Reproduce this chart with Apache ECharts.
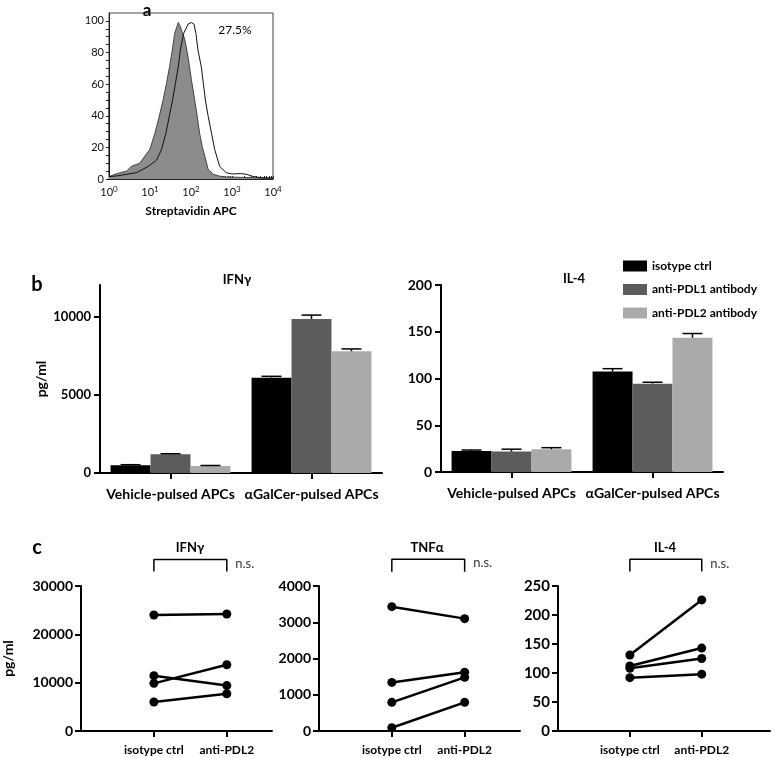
<!DOCTYPE html>
<html><head><meta charset="utf-8">
<script src="https://cdn.jsdelivr.net/npm/echarts@6/dist/echarts.min.js"></script>
<style>html,body{margin:0;padding:0;background:#fff}#c{width:777px;height:758px}</style>
</head><body><div id="c"></div>
<script>
// ---------- Panel a: histogram ----------
const grayX = [1, 1.05, 1.6, 2.7, 3.5, 5.6, 8.3, 10, 13.2, 16.6, 20.9, 25, 30, 34.7, 40, 44.7, 49, 53.7, 59, 71, 85, 102, 123, 141, 162, 190, 219, 263, 347, 500, 724, 1860, 3980, 10000];
const grayY = [1.5, 2.7, 3.5, 5, 8, 10, 16, 19, 29, 39, 50, 60, 71, 81, 92, 96, 99, 97, 94, 88, 77, 63, 50, 40, 29, 20, 14, 6, 3, 1.8, 1.3, 1, 0.8, 0.4];
const whiteX = [1, 1.02, 1.6, 4.7, 9.1, 14.5, 19, 24.5, 29.5, 35.5, 41.7, 49, 55, 66, 85, 102, 118, 132, 148, 178, 200, 224, 263, 316, 380, 500, 724, 1000, 1600, 2240, 3160, 5000, 10000];
const whiteY = [54, 1.5, 2, 4, 8, 12, 18.5, 29, 39.5, 50, 60.5, 71, 81.5, 92, 98, 99, 98, 92, 81.5, 71, 60.5, 50, 39.5, 29, 18.5, 8, 4, 3.2, 3.4, 3.0, 1.7, 0.8, 0.6];
const histYTicks = [0, 20, 40, 60, 80, 100];
const histXTicks = [1, 10, 100, 1000, 10000];
const histXExp = ['0', '1', '2', '3', '4'];
const histMinor = [2,3,4,5,6,7,8,9,20,30,40,50,60,70,80,90,200,300,400,500,600,700,800,900,2000,3000,4000,5000,6000,7000,8000,9000];

// ---------- Panel b: bar charts ----------
const bCats = ['Vehicle-pulsed APCs', 'αGalCer-pulsed APCs'];
const groups = ['isotype ctrl', 'anti-PDL1 antibody', 'anti-PDL2 antibody'];
const groupColors = ['#000000', '#5c5c5c', '#aaaaaa'];
const ifngIso = [490, 6080];
const ifngPdl1 = [1190, 9830];
const ifngPdl2 = [450, 7770];
const ifngIsoErr = [40, 90];
const ifngPdl1Err = [40, 250];
const ifngPdl2Err = [30, 150];
const il4Iso = [22.5, 107.5];
const il4Pdl1 = [21.8, 94.5];
const il4Pdl2 = [24.3, 143.6];
const il4IsoErr = [1, 3];
const il4Pdl1Err = [2.6, 1.5];
const il4Pdl2Err = [1.7, 4.5];
const bIfngTicks = [0, 5000, 10000];

// ---------- Panel c: paired lines ----------
const cCats = ['isotype ctrl', 'anti-PDL2'];
const cIfngIso = [24000, 11440, 9860, 6000];
const cIfngAnti = [24200, 9400, 13700, 7700];
const cTnfIso = [3430, 1340, 790, 90];
const cTnfAnti = [3100, 1620, 1480, 790];
const cIl4Iso = [131, 112, 108, 92];
const cIl4Anti = [226, 143, 125, 98];
const cIfngBracket = [33000, 35500];
const cTnfBracket = [4390, 4740];
const cIl4Bracket = [275, 296];

const FONT = 'Lato';

function errData(mean, err){ return mean.map((v,i)=>[i, v, err[i]]); }
function errRender(k){
  return function(params, api){
    const c = api.value(0), v = api.value(1), e = api.value(2);
    const base = api.coord([c, v]);
    const top = api.coord([c, v + e]);
    const band = api.size([1, 0])[0];
    const bw = band * 0.85 / 3;
    const x = base[0] + (k - 1) * bw;
    const half = bw / 4;
    return {type:'group', children:[
      {type:'line', shape:{x1:x, y1:base[1], x2:x, y2:top[1]}, style:{stroke:'#000', lineWidth:1.5}},
      {type:'line', shape:{x1:x-half, y1:top[1], x2:x+half, y2:top[1]}, style:{stroke:'#000', lineWidth:1.5}}
    ]};
  };
}

const chart = echarts.init(document.getElementById('c'), null, {renderer:'canvas'});

const grids = [
  {left:109, top:13, width:164, height:166, show:true, borderColor:'#444', borderWidth:1},
  {left:100, top:285, width:282, height:188},
  {left:441, top:285, width:282, height:187},
  {left:81, top:586, width:191, height:145},
  {left:319, top:586, width:201, height:145},
  {left:558, top:586, width:212, height:145}
].map(g => Object.assign({containLabel:false, outerBoundsMode:'none'}, g));

const boldLabel = (size) => ({color:'#000', fontFamily:FONT, fontWeight:'bold', fontSize:size});
const thickLine = {show:true, lineStyle:{color:'#000', width:2}};
const plain = v => String(v);

const xAxes = [
  {gridIndex:0, type:'log', logBase:10, min:1, max:10000,
   axisLine:{show:true, lineStyle:{color:'#222', width:1}},
   axisTick:{show:true, inside:true, length:3, customValues: histMinor.concat(histXTicks), lineStyle:{color:'#222'}},
   minorTick:{show:false}, splitLine:{show:false},
   axisLabel:{customValues: histXTicks, margin:6, color:'#111', fontFamily:FONT, fontSize:11,
     formatter: v => '10{s|' + histXExp[histXTicks.indexOf(v)] + '}',
     rich:{s:{fontSize:8, fontFamily:FONT, color:'#111', padding:[0,0,7,0]}}},
   name:'Streptavidin APC', nameLocation:'middle', nameGap:26,
   nameTextStyle:{color:'#000', fontFamily:FONT, fontWeight:'bold', fontSize:12}},
  {gridIndex:1, type:'category', data:bCats, boundaryGap:true,
   axisLine:thickLine, axisTick:{show:true, alignWithLabel:true, length:6, lineStyle:{width:2, color:'#000'}},
   axisLabel:Object.assign({margin:14, interval:0}, boldLabel(14))},
  {gridIndex:2, type:'category', data:bCats, boundaryGap:true,
   axisLine:thickLine, axisTick:{show:true, alignWithLabel:true, length:6, lineStyle:{width:2, color:'#000'}},
   axisLabel:Object.assign({margin:14, interval:0}, boldLabel(14))},
];
[3,4,5].forEach((gi, j) => {
  const maxes = [2.62, 2.76, 2.95];
  xAxes.push({gridIndex:gi, type:'value', min:0, max:maxes[j],
    axisLine:thickLine, splitLine:{show:false},
    axisTick:{show:true, customValues:[1,2], length:6, lineStyle:{width:2, color:'#000'}},
    axisLabel:Object.assign({customValues:[1,2], margin:13, formatter: v => cCats[Math.round(v)-1]}, boldLabel(12))});
});

const yAxes = [
  {gridIndex:0, type:'value', min:0, max:105,
   axisLine:{show:true, lineStyle:{color:'#222', width:1}},
   axisTick:{show:true, length:3, customValues:[0,5,10,15,20,25,30,35,40,45,50,55,60,65,70,75,80,85,90,95,100], lineStyle:{color:'#222'}},
   splitLine:{show:false},
   axisLabel:{customValues:histYTicks, margin:5, color:'#111', fontFamily:FONT, fontSize:11}},
  {gridIndex:1, type:'value', min:0, max:12000,
   axisLine:thickLine, splitLine:{show:false},
   axisTick:{show:true, customValues:bIfngTicks, length:6, lineStyle:{width:2, color:'#000'}},
   axisLabel:Object.assign({customValues:bIfngTicks, margin:9, formatter:plain}, boldLabel(13)),
   name:'pg/ml', nameLocation:'middle', nameRotate:90, nameGap:52,
   nameTextStyle:{color:'#000', fontFamily:FONT, fontWeight:'bold', fontSize:14}},
  {gridIndex:2, type:'value', min:0, max:200, interval:50,
   axisLine:thickLine, splitLine:{show:false},
   axisTick:{show:true, length:6, lineStyle:{width:2, color:'#000'}},
   axisLabel:Object.assign({margin:9, formatter:plain}, boldLabel(14))},
  {gridIndex:3, type:'value', min:0, max:30000, interval:10000,
   axisLine:thickLine, splitLine:{show:false},
   axisTick:{show:true, length:6, lineStyle:{width:2, color:'#000'}},
   axisLabel:Object.assign({margin:8, formatter:plain}, boldLabel(14)),
   name:'pg/ml', nameLocation:'middle', nameRotate:90, nameGap:66,
   nameTextStyle:{color:'#000', fontFamily:FONT, fontWeight:'bold', fontSize:14}},
  {gridIndex:4, type:'value', min:0, max:4000, interval:1000,
   axisLine:thickLine, splitLine:{show:false},
   axisTick:{show:true, length:6, lineStyle:{width:2, color:'#000'}},
   axisLabel:Object.assign({margin:8, formatter:plain}, boldLabel(14))},
  {gridIndex:5, type:'value', min:0, max:250, interval:50,
   axisLine:thickLine, splitLine:{show:false},
   axisTick:{show:true, length:6, lineStyle:{width:2, color:'#000'}},
   axisLabel:Object.assign({margin:8, formatter:plain}, boldLabel(15))}
];

const series = [];
// histogram
series.push({type:'line', xAxisIndex:0, yAxisIndex:0, data: grayX.map((x,i)=>[x, grayY[i]]),
  symbol:'none', lineStyle:{color:'#444', width:1}, areaStyle:{color:'#8c8c8c', opacity:1}, z:2, silent:true});
series.push({type:'line', xAxisIndex:0, yAxisIndex:0, data: whiteX.map((x,i)=>[x, whiteY[i]]),
  symbol:'none', lineStyle:{color:'#111', width:1}, z:3, silent:true});

// bars
const ifngMeans = [ifngIso, ifngPdl1, ifngPdl2];
const ifngErrs = [ifngIsoErr, ifngPdl1Err, ifngPdl2Err];
const il4Means = [il4Iso, il4Pdl1, il4Pdl2];
const il4Errs = [il4IsoErr, il4Pdl1Err, il4Pdl2Err];
[[1, ifngMeans, ifngErrs], [2, il4Means, il4Errs]].forEach(([ax, means, errs]) => {
  groups.forEach((g, k) => {
    series.push({type:'bar', name:g, xAxisIndex:ax, yAxisIndex:ax, data:means[k],
      barGap:'0%', barCategoryGap:'15%', itemStyle:{color:groupColors[k]}, z:2});
  });
  groups.forEach((g, k) => {
    series.push({type:'custom', xAxisIndex:ax, yAxisIndex:ax, data:errData(means[k], errs[k]),
      renderItem: errRender(k), z:3, silent:true});
  });
});

// paired lines + significance bracket
[[3, cIfngIso, cIfngAnti, cIfngBracket], [4, cTnfIso, cTnfAnti, cTnfBracket], [5, cIl4Iso, cIl4Anti, cIl4Bracket]].forEach(([ax, a, b, br]) => {
  a.forEach((v, i) => {
    series.push({type:'line', xAxisIndex:ax, yAxisIndex:ax, data:[[1, v], [2, b[i]]],
      symbol:'circle', symbolSize:9, itemStyle:{color:'#000'}, lineStyle:{color:'#000', width:2.5}, z:3, silent:true});
  });
  series.push({type:'line', xAxisIndex:ax, yAxisIndex:ax, clip:false, symbol:'none', silent:true,
    lineStyle:{color:'#000', width:1.5},
    data:[[1, br[0]], [1, br[1]], [2, br[1]], [2, br[0]]]});
  series.push({type:'scatter', xAxisIndex:ax, yAxisIndex:ax, clip:false, silent:true,
    symbolSize:1, itemStyle:{color:'rgba(0,0,0,0)'},
    label:{show:true, formatter:'n.s.', position:'right', distance:8, offset:[0,4], color:'#000', fontFamily:FONT, fontSize:13},
    data:[[2, br[1]]]});
});

const txt = (x, y, s, size, bold, align) => ({type:'text', x:x, y:y, style:{text:s, fill:'#000', fontFamily:FONT, fontSize:size, fontWeight: bold ? 'bold' : 'normal', align: align || 'center', verticalAlign:'middle'}});

const option = {
  animation:false,
  textStyle:{fontFamily:FONT},
  grid: grids,
  xAxis: xAxes,
  yAxis: yAxes,
  legend:{data:groups, orient:'vertical', left:618, top:255, itemWidth:24, itemHeight:11, itemGap:11.5,
    icon:'rect', selectedMode:false, textStyle:{color:'#000', fontFamily:FONT, fontWeight:'bold', fontSize:12}},
  series: series,
  graphic: [
    txt(147, 11, 'a', 17, true),
    txt(37, 285, 'b', 20, true),
    txt(37, 548, 'c', 20, true),
    txt(237, 280, 'IFNγ', 13, true),
    txt(574, 279, 'IL-4', 13, true),
    txt(190, 548, 'IFNγ', 13, true),
    txt(427, 548, 'TNFα', 13, true),
    txt(665, 548, 'IL-4', 13, true),
    txt(235, 30, '27.5%', 12, false)
  ]
};
chart.setOption(option);
</script></body></html>
